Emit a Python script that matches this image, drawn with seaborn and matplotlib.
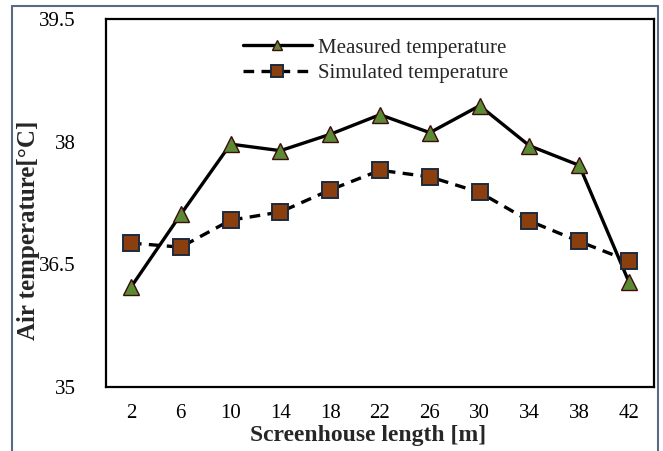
import matplotlib
matplotlib.use("Agg")
import matplotlib.pyplot as plt
from matplotlib.lines import Line2D
import seaborn as sns
import pandas as pd

# ---- data ----
lengths = ["2", "6", "10", "14", "18", "22", "26", "30", "34", "38", "42"]
measured = [36.22, 37.11, 37.97, 37.89, 38.09, 38.33, 38.11, 38.44, 37.95, 37.71, 36.28]
simulated = [36.76, 36.71, 37.04, 37.14, 37.41, 37.65, 37.57, 37.38, 37.03, 36.78, 36.54]
series_names = ["Measured temperature", "Simulated temperature"]
y_ticks = [35, 36.5, 38, 39.5]
y_ticklabels = ["35", "36.5", "38", "39.5"]

df_m = pd.DataFrame({"length": lengths, "temp": measured})
df_s = pd.DataFrame({"length": lengths, "temp": simulated})

sns.set_style("white")
plt.rcParams["font.family"] = ["Liberation Serif", "DejaVu Serif"]

W, H = 663, 451
fig = plt.figure(figsize=(W / 100, H / 100), dpi=100)
ax = fig.add_axes([106 / W, 1 - 387 / H, (654 - 106) / W, (387 - 19) / H])

sns.pointplot(data=df_m, x="length", y="temp", order=lengths, errorbar=None,
              color="black", ax=ax, markers="^", linestyles="-")
line_m = ax.lines[-1]
sns.pointplot(data=df_s, x="length", y="temp", order=lengths, errorbar=None,
              color="black", ax=ax, markers="s", linestyles="--")
line_s = ax.lines[-1]

line_m.set(linewidth=2.4, color="black", marker="^", markersize=11,
           markerfacecolor="#5b8a34", markeredgecolor="#3d0b0b", markeredgewidth=1.0,
           zorder=3)
line_s.set(linewidth=2.4, color="black", linestyle=(0, (3.2, 2.2)), marker="s",
           markersize=11.5, markerfacecolor="#8b3f0f", markeredgecolor="#1c2b3d",
           markeredgewidth=1.4, zorder=4)

ax.set_xlim(-0.5, len(lengths) - 0.5)
ax.set_ylim(35, 39.5)
ax.set_yticks(y_ticks)
ax.set_yticklabels(y_ticklabels)
ax.tick_params(axis="both", length=0, labelsize=15, colors="black")
ax.tick_params(axis="x", pad=12)
ax.tick_params(axis="y", pad=22)

for sp in ax.spines.values():
    sp.set_visible(True)
    sp.set_color("black")
    sp.set_linewidth(1.6)

ax.set_xlabel("Screenhouse length [m]", fontsize=17, fontweight="bold")
ax.set_ylabel("Air temperature[°C]", fontsize=18, fontweight="bold")
ax.xaxis.set_label_coords((368 - 106) / 548, -(425 - 387) / 368)
ax.yaxis.set_label_coords(-(106 - 40) / 548, (387 - 230) / 368)

leg = ax.legend(handles=[line_m, line_s], labels=series_names, frameon=False,
                loc="upper left", bbox_to_anchor=((243 - 106) / 548, (387 - 38) / 368),
                borderpad=0, borderaxespad=0, handlelength=3.3, handletextpad=0.3,
                labelspacing=0.28, fontsize=15, markerscale=0.7)

# figure border (chart frame)
border_col = "#5a6984"
fig.add_artist(Line2D([12 / W, 12 / W], [0, 1 - 6 / H], transform=fig.transFigure,
                      color=border_col, linewidth=1.5))
fig.add_artist(Line2D([12 / W, 658 / W], [1 - 6 / H, 1 - 6 / H], transform=fig.transFigure,
                      color=border_col, linewidth=1.5))
fig.add_artist(Line2D([658 / W, 658 / W], [0, 1 - 6 / H], transform=fig.transFigure,
                      color=border_col, linewidth=1.5))

fig.savefig("out.png", dpi=100)
